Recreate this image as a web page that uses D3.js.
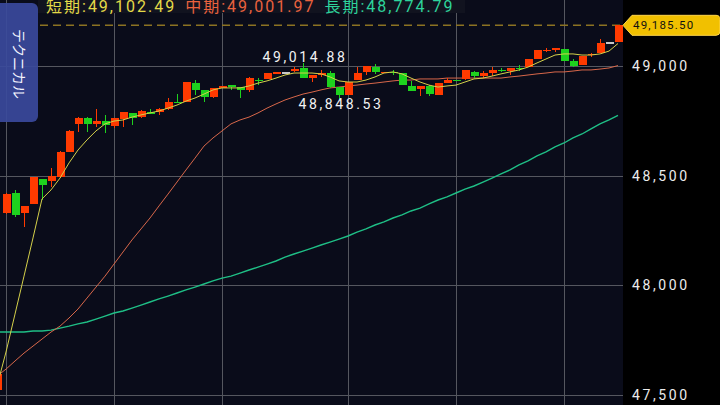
<!DOCTYPE html>
<html>
<head>
<meta charset="utf-8">
<script src="https://cdn.jsdelivr.net/npm/d3@7"></script>
<style>
html, body { margin: 0; padding: 0; background: #000; }
svg { display: block; }
</style>
</head>
<body>
<svg id="chart"></svg>
<script>
// candles, left to right (index 0 is cut off at the left edge)
const open = [47523,48330,48421,48330,48371,48485,48476,48494,48608,48736,
  48763,48736,48749,48726,48758,48786,48767,48790,48790,48804,
  48837,48836,48922,48891,48859,48900,48913,48904,48891,48937,
  48941,48964,48972,48982,48991,48945,48964,48968,48904,48868,
  48936,48973,48995,48968,48973,48968,48909,48895,48909,48868,
  48922,48937,48941,48973,48954,48968,48982,48977,48993,48995,
  49032,49073,49080,49078,49023,49005,49052,49059,49109,49109];
const close = [47596,48416,48321,48362,48494,48457,48498,48608,48704,48763,
  48736,48749,48731,48763,48790,48763,48795,48786,48804,48836,
  48835,48927,48891,48859,48900,48909,48904,48891,48945,48932,
  48968,48973,48972,48986,48945,48959,48968,48904,48868,48927,
  48968,49000,48973,48973,48971,48913,48886,48909,48872,48922,
  48936,48932,48982,48954,48968,48982,48977,48991,48989,49032,
  49073,49075,49082,49023,49000,49046,49055,49105,49109,49185.5];
const high = [47600,48421,48435,48362,48494,48485,48535,48612,48706,48767,
  48767,48804,48777,48763,48790,48786,48799,48804,48808,48854,
  48872,48928,48936,48891,48900,48909,48913,48906,48950,48945,
  48968,48973,48973,48995,49014.88,48959,48982,48977,48904,48927,
  48995,49000,49010,48973,48982,48968,48932,48909,48913,48922,
  48945,48937,48982,48977,48977,48995,48991,48991,49005,49032,
  49073,49082,49082,49078,49032,49046,49059,49123,49109,49186];
const low = [47514,48325,48311,48266,48371,48389,48448,48490,48606,48699,
  48699,48722,48694,48717,48722,48731,48763,48781,48777,48799,
  48831,48834,48868,48836,48854,48900,48891,48854,48881,48913,
  48941,48964,48971,48973,48945,48927,48950,48900,48848.53,48868,
  48936,48959,48964,48968,48959,48913,48886,48863,48863,48868,
  48922,48932,48936,48945,48945,48954,48973,48959,48977,48995,
  49032,49064,49064,49023,48995,49005,49041,49059,49109,49109];

// moving averages
const maShort = [47541,47696,47869,48042,48216,48394,48435,48489,48558,48617,
  48663,48704,48736,48749,48754,48767,48777,48786,48795,48808,
  48822,48840,48854,48872,48891,48900,48900,48900,48909,48922,
  48932,48945,48959,48968,48968,48968,48964,48950,48932,48927,
  48927,48936,48950,48968,48973,48964,48945,48927,48913,48904,
  48909,48913,48927,48941,48945,48954,48964,48973,48982,48995,
  49014,49032,49050,49055,49055,49050,49050,49055,49068,49102.49];
const maMid = [47586,47618,47655,47691,47723,47755,47787,47814,47851,47892,
  47942,47992,48042,48097,48152,48207,48257,48307,48362,48416,
  48471,48526,48580,48635,48672,48704,48736,48754,48767,48786,
  48808,48827,48845,48859,48872,48881,48891,48900,48904,48909,
  48913,48918,48922,48927,48932,48936,48936,48941,48941,48941,
  48945,48945,48945,48945,48945,48945,48945,48950,48954,48959,
  48964,48968,48973,48973,48977,48982,48982,48986,48991,49001.97];
const maLong = [47787,47787,47787,47787,47792,47792,47796,47805,47814,47824,
  47833,47846,47860,47874,47883,47896,47910,47924,47938,47951,
  47965,47979,47992,48006,48020,48033,48042,48056,48070,48083,
  48097,48111,48129,48143,48156,48170,48184,48197,48211,48225,
  48243,48257,48275,48289,48307,48321,48339,48352,48371,48389,
  48403,48421,48439,48453,48471,48489,48508,48526,48549,48567,
  48590,48608,48631,48649,48672,48690,48713,48736,48754,48774.79];

const yTicks = [47500, 48000, 48500, 49000];
const gridIdx = [1, 13, 25, 39, 51, 63];
const peakIdx = 34, troughIdx = 38;   // candles carrying the high / low labels
const lastPrice = 49185.50;
const maNames = ["短期", "中期", "長期"];
const tabLabel = "テクニカル";

const W = 720, H = 405, plotRight = 623;
const fmt = d3.format(",.2f");
const numFont = "Roboto, 'Noto Sans CJK JP', sans-serif";

let svg = d3.select("#chart").attr("width", W).attr("height", H);
const x = d3.scaleLinear().domain([0, open.length - 1]).range([-3, 618]);
const y = d3.scaleLinear().domain([47500, 49000]).range([395, 66]);

svg.append("rect").attr("x", 0).attr("y", 0).attr("width", plotRight).attr("height", H).style("fill", "#0a0c1a");
svg.append("defs").append("clipPath").attr("id", "plotclip")
  .append("rect").attr("x", 0).attr("y", 0).attr("width", plotRight).attr("height", H);

// grid
let grid = svg.append("g").style("stroke", "#55575f").style("stroke-width", 1).attr("shape-rendering", "crispEdges");
yTicks.forEach(v => {
  grid.append("line").attr("x1", 0).attr("x2", plotRight).attr("y1", Math.round(y(v)) + 0.5).attr("y2", Math.round(y(v)) + 0.5);
});
gridIdx.forEach(i => {
  grid.append("line").attr("x1", x(i) + 0.5).attr("x2", x(i) + 0.5).attr("y1", 0).attr("y2", H);
});

// legend band
svg.append("rect").attr("x", 38).attr("y", 0).attr("width", 427).attr("height", 13).style("fill", "#11131f");

// current price dashed line
svg.append("line").attr("x1", 40).attr("x2", plotRight).attr("y1", y(lastPrice)).attr("y2", y(lastPrice))
  .style("stroke", "#8c7322").style("stroke-width", 1.5).style("stroke-dasharray", "8,5");

let plot = svg.append("g").attr("clip-path", "url(#plotclip)");

// moving average lines
const line = d3.line().x((d, i) => x(i)).y(d => y(d));
plot.append("path").attr("d", line(maLong)).style("fill", "none").style("stroke", "#1fbf86").style("stroke-width", 1.4);
plot.append("path").attr("d", line(maMid)).style("fill", "none").style("stroke", "#d8674a").style("stroke-width", 1);

// candles
const colorOf = i => close[i] > open[i] ? "#ff3a00" : (close[i] < open[i] ? "#1ed21e" : "#c8c8c8");
let candles = plot.append("g").attr("shape-rendering", "crispEdges");
open.forEach((o, i) => {
  const c = close[i];
  const col = colorOf(i);
  candles.append("line").attr("x1", x(i) + 0.5).attr("x2", x(i) + 0.5)
    .attr("y1", y(high[i])).attr("y2", y(low[i])).style("stroke", col).style("stroke-width", 1);
  const top = y(Math.max(o, c));
  const hgt = Math.max(1.5, Math.abs(y(o) - y(c)));
  candles.append("rect").attr("x", x(i) - 3.5).attr("width", 8).attr("y", top).attr("height", hgt).style("fill", col);
});

plot.append("path").attr("d", line(maShort)).style("fill", "none").style("stroke", "#d4d04a").style("stroke-width", 1);

// high / low labels
const labelStyle = sel => sel.attr("text-anchor", "middle").style("font-family", numFont).style("font-size", "14px")
  .style("letter-spacing", "2.6px").style("fill", "#f2f2f2");
svg.append("text").attr("x", x(peakIdx) + 2).attr("y", y(high[peakIdx]) - 1).call(labelStyle).text(fmt(high[peakIdx]));
svg.append("text").attr("x", x(troughIdx) + 2).attr("y", y(low[troughIdx]) + 9.5).call(labelStyle).text(fmt(low[troughIdx]));

// left tab
svg.append("rect").attr("x", -8).attr("y", 3).attr("width", 46).attr("height", 119).attr("rx", 6)
  .style("fill", "#3b4a9c").style("opacity", 0.92);
svg.append("text").attr("transform", "translate(19,64) rotate(90)").attr("text-anchor", "middle").attr("dy", "0.35em")
  .style("font-family", "'Noto Sans CJK JP', sans-serif").style("font-size", "14px").style("fill", "#f4f4ff")
  .text(tabLabel);

// legend
const maLast = [maShort, maMid, maLong].map(a => a[a.length - 1]);
const legColors = ["#e3da48", "#e9623e", "#2ed39c"];
let lx = 46;
maNames.forEach((n, k) => {
  const t = svg.append("text").attr("x", lx).attr("y", 12)
    .style("font-family", numFont).style("font-size", "16px").style("letter-spacing", "2px").style("fill", legColors[k])
    .text(n + ":" + fmt(maLast[k]));
  lx += t.node().getComputedTextLength() + 9;
});

// right axis
svg.append("rect").attr("x", plotRight).attr("y", 0).attr("width", W - plotRight).attr("height", H).style("fill", "#000");
let axis = svg.append("g").attr("transform", `translate(${plotRight},0)`)
  .call(d3.axisRight(y).tickValues(yTicks).tickFormat(d3.format(",")).tickSize(0).tickPadding(9));
axis.select(".domain").remove();
axis.selectAll("text").style("font-family", numFont).style("font-size", "14px").style("letter-spacing", "2.6px").style("fill", "#ececec");

// current price tag
const py = y(lastPrice);
svg.append("path")
  .attr("d", `M${plotRight},${py} L${plotRight + 9},${py - 10} L${W - 4},${py - 10} Q${W},${py - 10} ${W},${py - 6} L${W},${py + 6} Q${W},${py + 10} ${W - 4},${py + 10} L${plotRight + 9},${py + 10} Z`)
  .style("fill", "#f1c000").style("stroke", "#ffd54a").style("stroke-width", 1);
svg.append("text").attr("x", plotRight + 10).attr("y", py).attr("dy", "0.36em")
  .style("font-family", numFont).style("font-size", "11.5px").style("letter-spacing", "1.2px").style("fill", "#111")
  .text(fmt(lastPrice));
</script>
</body>
</html>
